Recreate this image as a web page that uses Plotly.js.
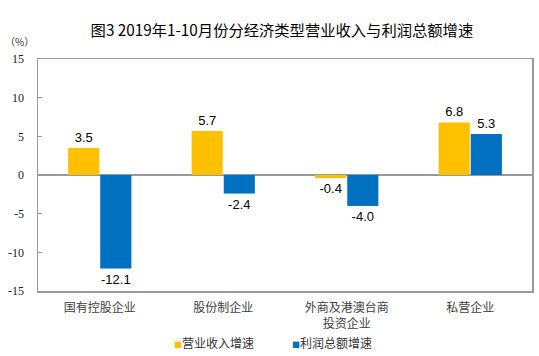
<!DOCTYPE html>
<html><head><meta charset="utf-8">
<script src="https://cdn.plot.ly/plotly-3.0.1.min.js"></script>
<style>body{margin:0;background:#fff}#c{width:539px;height:356px}</style>
</head><body><div id="c"></div>
<script>
const categories = ["国有控股企业", "股份制企业", "外商及港澳台商<br>投资企业", "私营企业"];
const revenueGrowth = [3.5, 5.7, -0.4, 6.8];
const profitGrowth = [-12.1, -2.4, -4.0, 5.3];
const seriesNames = ["营业收入增速", "利润总额增速"];
const seriesColors = ["#FFC000", "#0070C0"];
const yTicks = [-15, -10, -5, 0, 5, 10, 15];

const cjk = '"Noto Sans CJK SC", "Noto Sans", sans-serif';
const lblFont = {family: '"Liberation Sans", Arial, sans-serif', size: 13, color: '#000'};

const traces = [
  {type: 'bar', name: seriesNames[0], x: categories, y: revenueGrowth,
   marker: {color: seriesColors[0]}, text: revenueGrowth.map(v => v.toFixed(1)),
   textposition: 'outside', textfont: lblFont, cliponaxis: false, showlegend: false},
  {type: 'bar', name: seriesNames[1], x: categories, y: profitGrowth,
   marker: {color: seriesColors[1]}, text: profitGrowth.map(v => v.toFixed(1)),
   textposition: 'outside', textfont: lblFont, cliponaxis: false, showlegend: false}
];

const legendX = [0.271, 0.511];
const legendAnn = seriesNames.map((n, i) => ({
  text: '<span style="color:' + seriesColors[i] + ';font-size:8px">■</span>' + n,
  xref: 'paper', yref: 'paper', x: legendX[i], y: -0.22, xanchor: 'left', yanchor: 'middle',
  showarrow: false, font: {family: cjk, size: 12, color: '#333'}
}));

const layout = {
  width: 539, height: 356,
  margin: {l: 38, r: 7, t: 59, b: 65},
  paper_bgcolor: '#fff', plot_bgcolor: '#fff',
  barmode: 'group', bargap: 0.48, bargroupgap: 0.03,
  title: {text: '图3 2019年1-10月份分经济类型营业收入与利润总额增速',
          font: {family: cjk, size: 15.3, color: '#000'},
          x: 0.523, xanchor: 'center', y: 0.915, yanchor: 'middle'},
  xaxis: {showline: true, mirror: true, linecolor: '#999', linewidth: 1.5,
          ticks: '', ticklabelstandoff: 5,
          tickfont: {family: cjk, size: 12, color: '#404040'},
          showgrid: false, zeroline: false},
  yaxis: {range: [-15, 15], tickvals: yTicks, ticktext: yTicks.map(String),
          showline: true, mirror: true, linecolor: '#999', linewidth: 1.5,
          ticks: 'inside', ticklen: 4, tickcolor: '#999',
          ticklabelstandoff: 10,
          tickfont: {family: '"Liberation Serif", "Times New Roman", serif', size: 12, color: '#222'},
          showgrid: false, zeroline: true, zerolinecolor: '#999', zerolinewidth: 1.5},
  showlegend: false,
  annotations: [{text: '（%）', xref: 'paper', yref: 'paper', x: -0.071, y: 1.075,
                 xanchor: 'left', yanchor: 'middle', showarrow: false,
                 font: {family: cjk, size: 10, color: '#333'}}].concat(legendAnn)
};

Plotly.newPlot('c', traces, layout, {displayModeBar: false, staticPlot: true});
</script></body></html>
